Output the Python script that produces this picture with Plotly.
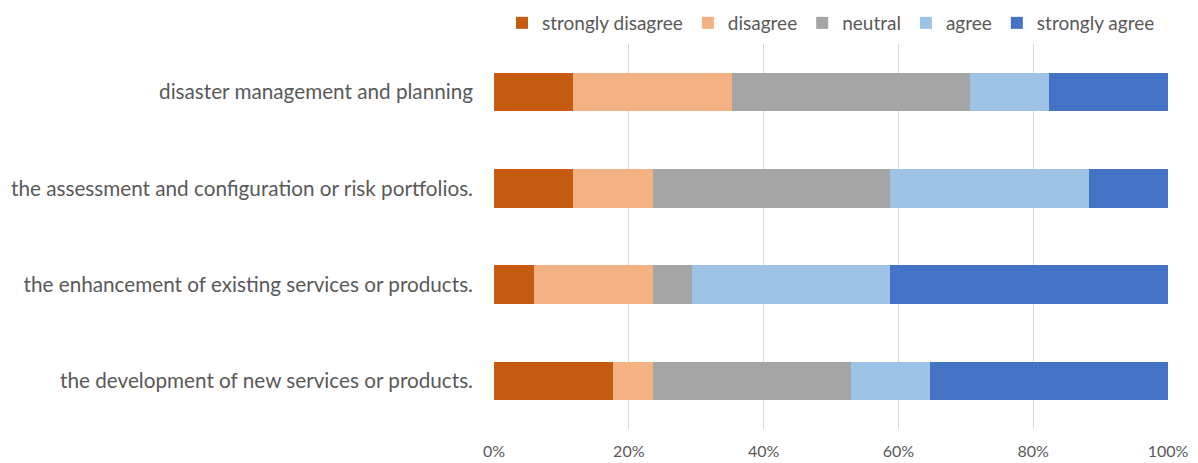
import plotly.graph_objects as go

categories = [
    "disaster management and planning",
    "the assessment and configuration or risk portfolios.",
    "the enhancement of existing services or products.",
    "the development of new services or products.",
]
series_names = ["strongly disagree", "disagree", "neutral", "agree", "strongly agree"]
# response counts (n = 17 per item)
strongly_disagree = [2, 2, 1, 3]
disagree = [4, 2, 3, 1]
neutral = [6, 6, 1, 5]
agree = [2, 5, 5, 2]
strongly_agree = [3, 2, 7, 6]
colors = ["#C55A11", "#F4B183", "#A5A5A5", "#9DC3E6", "#4472C4"]
x_tickvals = [0, 0.2, 0.4, 0.6, 0.8, 1.0]
x_ticktext = ["0%", "20%", "40%", "60%", "80%", "100%"]

all_series = [strongly_disagree, disagree, neutral, agree, strongly_agree]
totals = [sum(s[i] for s in all_series) for i in range(len(categories))]

fig = go.Figure()
for name, vals, col in zip(series_names, all_series, colors):
    fig.add_trace(go.Bar(
        y=categories,
        x=[v / t for v, t in zip(vals, totals)],
        name=name,
        orientation="h",
        marker=dict(color=col, line=dict(width=0)),
    ))

fig.update_layout(
    barmode="stack",
    bargap=0.6,
    width=1198, height=463,
    margin=dict(l=494, r=30, t=44, b=34, autoexpand=False),
    paper_bgcolor="white",
    plot_bgcolor="white",
    font=dict(family="Lato, sans-serif", color="#595959", size=20),
    legend=dict(
        orientation="h", x=0.5, xanchor="center",
        yref="container", y=1 - 23 / 463, yanchor="middle",
        font=dict(size=19, color="#595959"),
        traceorder="normal",
        itemwidth=30,
        tracegroupgap=0,
    ),
    showlegend=True,
)
fig.update_xaxes(
    range=[0, 1], tickvals=x_tickvals, ticktext=x_ticktext,
    showgrid=True, gridcolor="#D9D9D9", gridwidth=1,
    zeroline=False, showline=False,
    tickfont=dict(size=16, color="#595959"),
    ticklabelstandoff=11,
    automargin=False,
)
fig.update_yaxes(
    categoryorder="array", categoryarray=categories[::-1],
    showgrid=False, showline=False, zeroline=False,
    tickfont=dict(size=20.7, color="#595959"),
    ticklabelstandoff=20,
    automargin=False,
)

fig.write_html("out.html")
